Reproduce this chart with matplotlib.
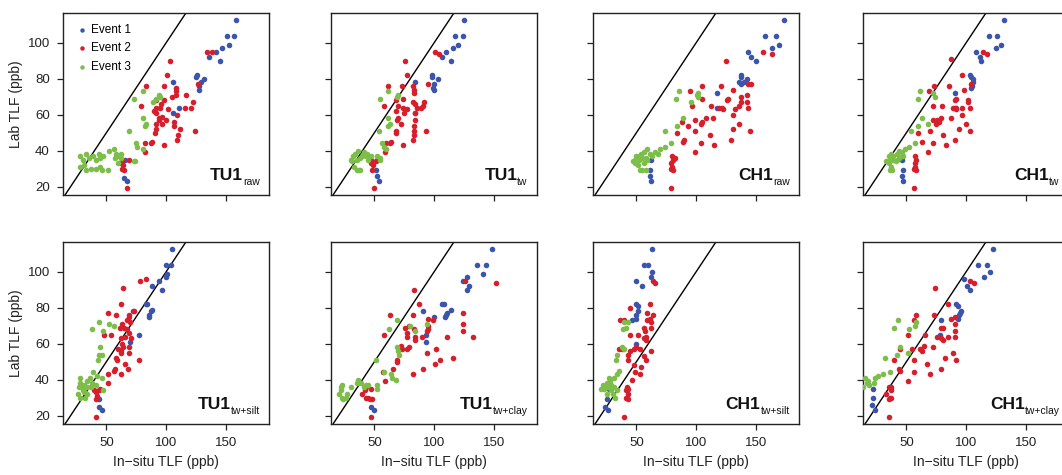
import numpy as np
import matplotlib
matplotlib.use('Agg')
from matplotlib import pyplot as plt

plt.rcParams.update({'font.family': ['Liberation Sans', 'DejaVu Sans'], 'font.size': 10})

# colours of the three events
c_e1 = '#3c55aa'
c_e2 = '#d61f2d'
c_e3 = '#7dbe4b'
event_names = ['Event 1', 'Event 2', 'Event 3']

# (in-situ TLF, lab TLF) pairs, ppb
tu1_raw_e1 = [(159, 113), (151, 104), (157, 104), (153, 99), (147, 97), (142, 95), (136, 92), (145, 90),
              (126, 82), (125, 81), (132, 80), (129, 78), (128, 76), (128, 74), (106, 78), (111, 64),
              (106, 61), (66, 35), (65, 25), (67, 23)]
tu1_raw_e2 = [(134, 95), (139, 95), (103, 90), (101, 82), (83, 76), (98, 76), (108, 75), (108, 73), (108, 71),
              (117, 71), (79, 65), (92, 68), (98, 68), (95, 64), (92, 64), (102, 63), (109, 60), (107, 56),
              (107, 54), (112, 52), (110, 49), (109, 46), (121, 64), (123, 67), (116, 64), (124, 51), (127, 77),
              (92, 61), (94, 57), (92, 55), (94, 58), (97, 55), (91, 50), (92, 52), (88, 45), (87, 44), (98, 43),
              (82, 44), (82, 39), (63, 35), (62, 33), (64, 32), (65, 29), (63, 30), (69, 35), (67, 19), (97, 59),
              (100, 57), (90, 62), (96, 66), (105, 70)]
tu1_raw_e3 = [(28, 37), (30, 35), (33, 38), (35, 36), (39, 37), (41, 35), (44, 38), (45, 36), (47, 37), (52, 40),
              (56, 41), (58, 38), (59, 37), (62, 38), (62, 36), (31, 32), (28, 31), (33, 29), (37, 30), (41, 30),
              (45, 31), (46, 29), (51, 29), (57, 36), (60, 33), (73, 34), (74, 34), (73, 69), (81, 73), (89, 67),
              (94, 71), (95, 70), (92, 69), (81, 58), (82, 54), (83, 55), (69, 51), (75, 44), (76, 42), (81, 41)]

tu1_tw_e1 = [(125, 113), (118, 104), (124, 104), (120, 99), (116, 97), (110, 95), (107, 92), (114, 90),
             (98, 82), (98, 81), (103, 80), (100, 77), (99, 75), (100, 74), (84, 78), (84, 61), (51, 29),
             (52, 26), (54, 23)]
tu1_tw_e2 = [(101, 95), (104, 94), (76, 90), (77, 82), (61, 76), (73, 76), (82, 76), (83, 74), (83, 72), (95, 77),
             (58, 65), (68, 68), (74, 69), (70, 65), (74, 64), (77, 63), (84, 66), (86, 64), (89, 64), (92, 67),
             (91, 65), (84, 61), (84, 57), (83, 54), (83, 51), (83, 49), (82, 46), (82, 67), (68, 62), (70, 58),
             (69, 57), (75, 61), (72, 55), (68, 51), (68, 50), (64, 45), (63, 44), (74, 43), (60, 44), (59, 39),
             (47, 35), (47, 33), (49, 32), (48, 29), (51, 34), (52, 35), (50, 19), (93, 51)]
tu1_tw_e3 = [(61, 73), (55, 69), (69, 70), (70, 71), (61, 58), (61, 54), (63, 55), (54, 51), (56, 44), (58, 42),
             (60, 41), (55, 35), (41, 39), (40, 37), (36, 40), (34, 38), (32, 37), (35, 35), (38, 36), (43, 37),
             (44, 38), (45, 35), (47, 37), (31, 34), (33, 31), (37, 29), (35, 29), (38, 29), (30, 35), (52, 37),
             (55, 36)]

ch1_raw_e1 = [(174, 113), (158, 104), (167, 104), (170, 99), (164, 97), (144, 95), (146, 92), (150, 90),
              (138, 82), (138, 81), (143, 80), (140, 78), (138, 77), (136, 78), (118, 72), (118, 64), (62, 35),
              (61, 29), (61, 26), (62, 23)]
ch1_raw_e2 = [(156, 95), (164, 94), (125, 90), (131, 74), (105, 76), (121, 76), (95, 73), (144, 77), (146, 77),
              (97, 65), (113, 65), (119, 64), (122, 64), (123, 63), (131, 60), (138, 70), (143, 71), (143, 67),
              (144, 64), (138, 67), (136, 65), (133, 63), (127, 69), (126, 68), (105, 69), (99, 57), (105, 56),
              (104, 55), (108, 58), (114, 58), (88, 56), (93, 54), (84, 50), (99, 51), (112, 49), (90, 46),
              (89, 45), (104, 44), (115, 43), (129, 46), (145, 51), (136, 55), (131, 52), (99, 39), (80, 37),
              (81, 35), (79, 33), (80, 31), (81, 29), (79, 30), (79, 19), (82, 36)]
ch1_raw_e3 = [(86, 73), (83, 69), (96, 67), (101, 71), (102, 70), (102, 72), (89, 58), (84, 54), (74, 51),
              (79, 44), (74, 42), (70, 41), (66, 39), (61, 38), (59, 41), (56, 39), (54, 38), (52, 37), (50, 37),
              (49, 35), (52, 35), (55, 36), (58, 36), (63, 37), (68, 38), (49, 33), (51, 32), (53, 29), (55, 29),
              (58, 29), (47, 34), (56, 33), (59, 35)]

ch1_tw_e1 = [(132, 113), (119, 104), (126, 104), (129, 99), (125, 97), (108, 95), (112, 92), (113, 90),
             (103, 82), (104, 81), (106, 80), (106, 78), (105, 76), (104, 75), (91, 72), (92, 64), (46, 35),
             (47, 29), (46, 26), (47, 23)]
ch1_tw_e2 = [(114, 95), (118, 94), (87, 91), (97, 82), (73, 76), (86, 76), (69, 73), (104, 77), (72, 65), (80, 65),
             (89, 64), (91, 64), (92, 63), (97, 64), (102, 67), (103, 64), (102, 68), (92, 69), (91, 68), (98, 74),
             (97, 60), (79, 58), (77, 56), (75, 55), (87, 58), (72, 57), (70, 51), (60, 50), (63, 45), (72, 44),
             (83, 43), (81, 49), (91, 46), (103, 51), (100, 55), (94, 52), (68, 39), (57, 37), (58, 35), (57, 33),
             (57, 31), (56, 30), (58, 29), (56, 19), (76, 57)]
ch1_tw_e3 = [(61, 73), (60, 69), (74, 70), (72, 72), (63, 58), (60, 54), (68, 55), (54, 51), (57, 44), (52, 42),
             (49, 41), (46, 39), (44, 40), (42, 38), (39, 37), (37, 38), (35, 37), (36, 35), (39, 35), (42, 35),
             (44, 36), (47, 37), (35, 33), (37, 31), (38, 29), (36, 29), (41, 34), (46, 37), (33, 34)]

tu1_silt_e1 = [(105, 113), (100, 104), (104, 104), (101, 99), (100, 97), (94, 95), (88, 92), (97, 90), (83, 82),
               (84, 82), (88, 79), (87, 78), (86, 76), (86, 75), (72, 78), (77, 65), (70, 61), (44, 29),
               (44, 25), (46, 23)]
tu1_silt_e2 = [(78, 95), (83, 96), (64, 91), (62, 82), (51, 77), (58, 76), (69, 76), (69, 75), (70, 72), (73, 78),
               (48, 65), (54, 65), (61, 69), (63, 71), (67, 73), (65, 69), (67, 68), (69, 66), (66, 64), (62, 63),
               (71, 63), (63, 60), (69, 58), (60, 57), (62, 56), (62, 55), (58, 52), (59, 51), (66, 49), (68, 46),
               (57, 46), (56, 45), (62, 43), (51, 43), (51, 38), (40, 34), (41, 33), (42, 31), (41, 29), (44, 34),
               (45, 35), (41, 19), (77, 51), (69, 55), (64, 58)]
tu1_silt_e3 = [(44, 72), (38, 68), (52, 71), (56, 70), (47, 67), (45, 58), (44, 54), (46, 54), (43, 51), (39, 44),
               (42, 42), (46, 41), (47, 34), (28, 41), (28, 38), (31, 37), (34, 39), (36, 41), (38, 38), (37, 36),
               (41, 37), (34, 36), (27, 36), (30, 34), (26, 32), (28, 30), (32, 30), (34, 32), (31, 33), (30, 36)]

tu1_clay_e1 = [(149, 113), (136, 104), (144, 104), (141, 99), (128, 97), (124, 95), (129, 92), (128, 90),
               (107, 82), (108, 82), (114, 79), (111, 77), (110, 76), (109, 75), (91, 78), (100, 75), (93, 65),
               (93, 61), (47, 25), (50, 23)]
tu1_clay_e2 = [(126, 95), (152, 94), (83, 90), (87, 82), (63, 76), (82, 76), (95, 74), (95, 70), (99, 73),
               (124, 77), (124, 71), (124, 67), (133, 64), (111, 64), (58, 65), (76, 69), (79, 70), (77, 66),
               (77, 64), (84, 64), (84, 62), (90, 64), (94, 67), (95, 68), (83, 68), (72, 59), (73, 57), (77, 57),
               (79, 58), (69, 51), (69, 50), (94, 55), (102, 57), (105, 51), (101, 49), (116, 52), (66, 46),
               (59, 39), (57, 44), (91, 46), (82, 43), (43, 36), (42, 34), (40, 32), (43, 30), (45, 30), (46, 29),
               (48, 29), (47, 35), (47, 19)]
tu1_clay_e3 = [(69, 73), (62, 68), (80, 70), (84, 67), (94, 71), (69, 58), (71, 54), (70, 56), (51, 51), (58, 44),
               (64, 43), (65, 41), (68, 40), (52, 35), (52, 37), (45, 37), (43, 37), (41, 36), (39, 38), (36, 40),
               (35, 38), (30, 36), (23, 37), (22, 36), (20, 32), (23, 30), (26, 30), (24, 29), (22, 34), (27, 32)]

ch1_silt_e1 = [(63, 113), (56, 104), (60, 104), (63, 100), (62, 97), (50, 95), (55, 92), (50, 82), (51, 81),
               (51, 78), (50, 76), (50, 74), (46, 73), (50, 60), (27, 35), (25, 29), (24, 25), (26, 23)]
ch1_silt_e2 = [(64, 95), (66, 94), (61, 82), (45, 80), (59, 77), (64, 76), (61, 74), (59, 73), (62, 72), (56, 69),
               (57, 67), (62, 69), (58, 64), (56, 63), (58, 62), (51, 65), (45, 65), (53, 57), (50, 58), (48, 57),
               (45, 56), (43, 54), (62, 56), (56, 53), (58, 51), (43, 51), (48, 48), (54, 47), (49, 44), (53, 43),
               (35, 57), (38, 57), (36, 73), (40, 73), (46, 40), (42, 36), (43, 35), (41, 34), (43, 32), (41, 30),
               (43, 29), (40, 19)]
ch1_silt_e3 = [(40, 72), (43, 72), (41, 69), (39, 68), (38, 58), (40, 57), (34, 54), (33, 51), (35, 45), (34, 43),
               (31, 41), (27, 41), (28, 39), (25, 38), (22, 37), (20, 35), (25, 36), (27, 36), (29, 37), (31, 36),
               (29, 34), (30, 32), (32, 30), (25, 32), (34, 34), (23, 35)]

ch1_clay_e1 = [(123, 113), (110, 104), (118, 104), (120, 100), (115, 97), (98, 96), (101, 92), (103, 90), (92, 82),
               (93, 81), (96, 78), (95, 77), (94, 76), (93, 74), (79, 73), (78, 65), (22, 35), (22, 30), (21, 26),
               (24, 23)]
ch1_clay_e2 = [(103, 95), (107, 94), (74, 91), (85, 82), (58, 76), (73, 76), (56, 73), (87, 74), (91, 75), (91, 71),
               (79, 69), (81, 69), (76, 64), (79, 63), (81, 62), (85, 64), (91, 67), (91, 64), (51, 65), (66, 65),
               (65, 59), (61, 57), (63, 56), (55, 57), (72, 58), (89, 55), (92, 51), (82, 52), (67, 49), (56, 51),
               (45, 57), (40, 51), (44, 46), (45, 45), (56, 44), (70, 43), (79, 46), (51, 39), (37, 36), (35, 36),
               (37, 34), (33, 32), (36, 30), (37, 30), (35, 29), (35, 19)]
ch1_clay_e3 = [(43, 73), (40, 69), (52, 68), (58, 72), (57, 70), (45, 58), (42, 54), (51, 55), (32, 52), (36, 44),
               (30, 43), (26, 42), (24, 41), (23, 38), (15, 41), (17, 38), (19, 37), (14, 36), (18, 39)]

panel_names = [('TU1', 'raw'), ('TU1', 'tw'), ('CH1', 'raw'), ('CH1', 'tw'),
               ('TU1', 'tw+silt'), ('TU1', 'tw+clay'), ('CH1', 'tw+silt'), ('CH1', 'tw+clay')]
panel_data = [(tu1_raw_e1, tu1_raw_e2, tu1_raw_e3), (tu1_tw_e1, tu1_tw_e2, tu1_tw_e3),
              (ch1_raw_e1, ch1_raw_e2, ch1_raw_e3), (ch1_tw_e1, ch1_tw_e2, ch1_tw_e3),
              (tu1_silt_e1, tu1_silt_e2, tu1_silt_e3), (tu1_clay_e1, tu1_clay_e2, tu1_clay_e3),
              (ch1_silt_e1, ch1_silt_e2, ch1_silt_e3), (ch1_clay_e1, ch1_clay_e2, ch1_clay_e3)]

x_ticks = [50, 100, 150]
y_ticks = [20, 40, 60, 80, 100]
x_lims = (13.6, 186.4)
y_lims = (15.3, 116.7)


def plot_panel(ax, events, name, sub, xlab, ylab, legend):
    for pts, col, lab in zip(events, [c_e1, c_e2, c_e3], event_names):
        pts = np.array(pts, dtype=float)
        ax.scatter(pts[:, 0], pts[:, 1], s=16, color=col, linewidths=0, label=lab, zorder=3)
    ax.plot(x_lims, x_lims, color='k', lw=1.0, zorder=2)
    ax.set_xlim(x_lims)
    ax.set_ylim(y_lims)
    ax.set_xticks(x_ticks)
    ax.set_yticks(y_ticks)
    ax.tick_params(direction='out', length=4.5, width=0.9, labelsize=9.5, pad=5, colors='#222222',
                   labelcolor='#222222')
    for sp in ax.spines.values():
        sp.set_linewidth(1.0)
        sp.set_color('#222222')
    if xlab:
        ax.set_xlabel('In\u2212situ TLF (ppb)', fontsize=10, labelpad=4, color='#222222')
    else:
        ax.tick_params(labelbottom=False)
    if ylab:
        ax.set_ylabel('Lab TLF (ppb)', fontsize=10, labelpad=3, color='#222222')
    else:
        ax.tick_params(labelleft=False)
    if legend:
        ax.legend(loc='upper left', bbox_to_anchor=(0.02, 0.985), frameon=False, fontsize=8.5,
                  handletextpad=0.1, labelspacing=0.55, borderaxespad=0.3, markerscale=0.8, handlelength=1.2)
    st = ax.text(0.955, 0.055, sub, transform=ax.transAxes, ha='right', va='baseline', fontsize=7.5,
                 color='#111111')
    ax.annotate(name, xy=(0, 0), xycoords=st, xytext=(0, 2.7), textcoords='offset points', ha='right',
                va='bottom', fontsize=12.5, fontweight='bold', color='#111111')


fig = plt.figure(figsize=(10.62, 4.75), dpi=100)
W, H = 1062.0, 475.0
col_left = [63, 331, 593, 863]
row_top = [13, 242]
ax_w, ax_h = 206, 182

for i, (nm, ev) in enumerate(zip(panel_names, panel_data)):
    r, c = divmod(i, 4)
    ax = fig.add_axes([col_left[c] / W, 1 - (row_top[r] + ax_h) / H, ax_w / W, ax_h / H])
    plot_panel(ax, ev, nm[0], nm[1], r == 1, c == 0, i == 0)

fig.savefig('out.png', dpi=100)
